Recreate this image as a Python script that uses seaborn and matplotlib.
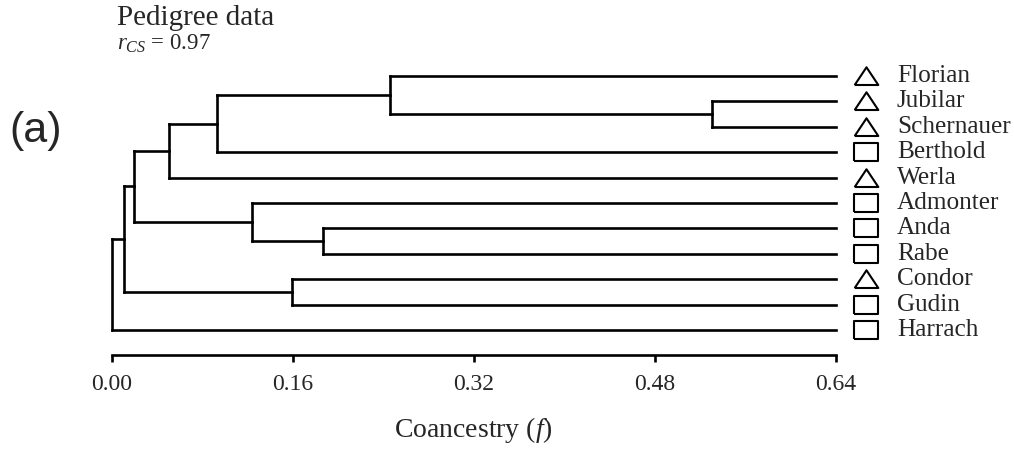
import matplotlib
matplotlib.use("Agg")
import matplotlib.pyplot as plt
import numpy as np
import pandas as pd
import seaborn as sns

# ---------------- data ----------------
leaves = ["Florian", "Jubilar", "Schernauer", "Berthold", "Werla", "Admonter",
          "Anda", "Rabe", "Condor", "Gudin", "Harrach"]
leaf_shape = ["triangle", "triangle", "triangle", "square", "triangle", "square",
              "square", "square", "triangle", "square", "square"]
# linkage: (child_a, child_b, coancestry at which they join); new ids start at 11
merge_a = [1, 0, 12, 13, 6, 5, 14, 8, 17, 19]
merge_b = [2, 11, 3, 4, 7, 15, 16, 9, 18, 10]
merge_h = [0.531, 0.246, 0.093, 0.051, 0.187, 0.124, 0.020, 0.159, 0.011, 0.000]
x_ticks = [0.00, 0.16, 0.32, 0.48, 0.64]
title_text = "Pedigree data"
stat_text = r"$r_{CS}$ = 0.97"
xlabel_text = r"Coancestry ($f$)"
panel_text = "(a)"

# ---------------- style ----------------
sns.set_style("white")
plt.rcParams["font.family"] = ["Liberation Serif", "DejaVu Serif"]
plt.rcParams["mathtext.fontset"] = "custom"
plt.rcParams["mathtext.rm"] = "Liberation Serif"
plt.rcParams["mathtext.it"] = "Liberation Serif:italic"

fig = plt.figure(figsize=(10.14, 4.54), dpi=100)
ax = fig.add_axes([0.1102, 0.218, 0.714, 0.650])

n = len(leaves)
xmax = x_ticks[-1]
ypos = {i: float(n - 1 - i) for i in range(n)}
hpos = {i: xmax for i in range(n)}
segs = []
sid = 0
for k, (a, b, h) in enumerate(zip(merge_a, merge_b, merge_h)):
    nid = n + k
    for c in (a, b):
        segs.append(pd.DataFrame({"x": [h, hpos[c]], "y": [ypos[c], ypos[c]], "seg": sid}))
        sid += 1
    segs.append(pd.DataFrame({"x": [h, h], "y": [ypos[a], ypos[b]], "seg": sid}))
    sid += 1
    ypos[nid] = (ypos[a] + ypos[b]) / 2
    hpos[nid] = h
df = pd.concat(segs, ignore_index=True)

sns.lineplot(data=df, x="x", y="y", units="seg", estimator=None, sort=False,
             color="black", linewidth=1.9, ax=ax, solid_capstyle="projecting",
             clip_on=False)

# markers and labels
tri = [(-1, -0.72), (1, -0.72), (0, 0.78), (-1, -0.72)]
sq = [(-1, -0.74), (1, -0.74), (1, 0.74), (-1, 0.74), (-1, -0.74)]
shape_marker = {"triangle": tri, "square": sq}
for i, (name, shp) in enumerate(zip(leaves, leaf_shape)):
    ax.plot([0.667], [ypos[i]], marker=shape_marker[shp], markersize=17,
            mfc="none", mec="black", mew=1.5, clip_on=False, linestyle="none")
    ax.text(0.694, ypos[i], name, fontsize=18.2, va="center", ha="left",
            clip_on=False)

ax.set_xlim(0, xmax)
ax.set_ylim(-0.984, 10.63)
ax.set_xticks(x_ticks)
ax.set_xticklabels([f"{t:.2f}" for t in x_ticks], fontsize=17)
ax.set_yticks([])
ax.set_ylabel("")
ax.set_xlabel(xlabel_text, fontsize=20, labelpad=14)
for s in ["top", "right", "left"]:
    ax.spines[s].set_visible(False)
ax.spines["bottom"].set_linewidth(1.9)
ax.spines["bottom"].set_color("black")
ax.tick_params(axis="x", direction="out", length=5, width=1.9, color="black",
               pad=9, bottom=True)

fig.text(117 / 1014, 1 - 18 / 454, title_text, fontsize=21, ha="left", va="center")
fig.text(117 / 1014, 1 - 44 / 454, stat_text, fontsize=16.5, ha="left", va="center")
fig.text(9 / 1014, 1 - 131 / 454, panel_text, fontsize=31, ha="left", va="center",
         family=["Liberation Sans", "DejaVu Sans"])

fig.savefig("out.png", dpi=100)
